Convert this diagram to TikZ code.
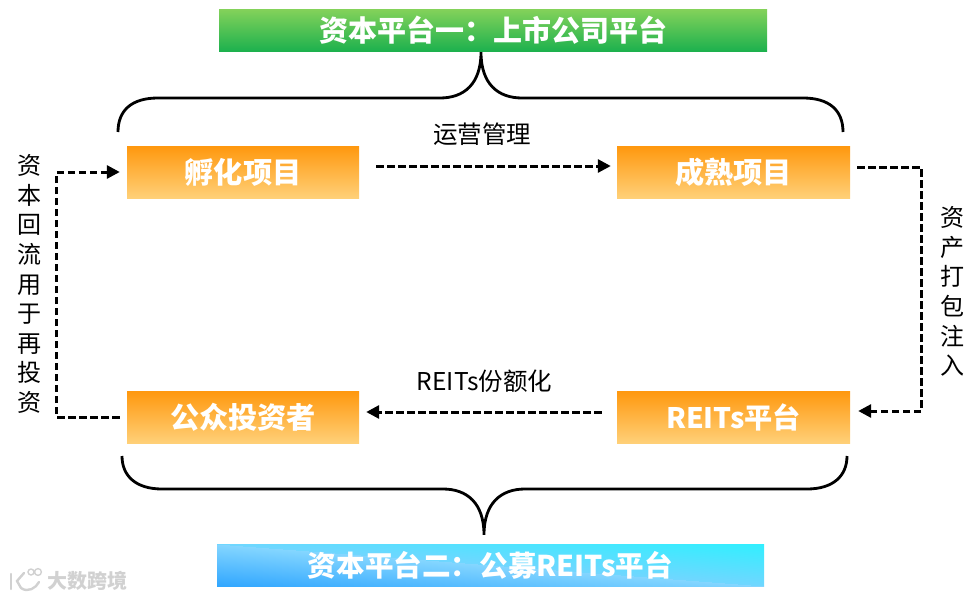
\documentclass[tikz,border=0pt]{standalone}
\usepackage{fontspec}
\setmainfont{Noto Sans CJK SC}
\usetikzlibrary{arrows.meta,calc}
\definecolor{gtop}{HTML}{84D25A}
\definecolor{gbot}{HTML}{1DB14E}
\definecolor{otop}{HTML}{FF980E}
\definecolor{obot}{HTML}{FFD078}
\pgfdeclarefunctionalshading{skyshade}{\pgfpointorigin}{\pgfpoint{100bp}{100bp}}{}{
  add 200 div 0.5 sub 1.5 mul 0.5 add dup 0.5 lt
  { 2 mul dup 0.44 mul 0.08 add exch 0.25 mul 0.59 add 1 }
  { 0.5 sub 2 mul dup -0.33 mul 0.44 add exch 0.13 mul 0.84 add 1 }
  ifelse
}
\tikzset{
  x=1pt,y=-1pt,
  stepbox/.style={inner sep=0pt,minimum width=233pt,minimum height=52pt,top color=otop,bottom color=obot,text=white,font=\bfseries\fontsize{29.2}{29.2}\selectfont},
  titlebar/.style={inner sep=0pt,minimum width=548pt,minimum height=42pt,text=white,font=\bfseries\fontsize{29}{29}\selectfont},
  flow/.style={line width=3pt,dash pattern=on 7.5pt off 3.5pt,-{Triangle[length=13pt,width=13pt]}},
  bracket/.style={line width=2.8pt,draw=black},
  caption/.style={inner sep=0pt,text=black,font=\fontsize{24.5}{24.5}\selectfont},
  upright/.style={inner sep=0pt,text=black,align=center,font=\fontsize{24}{29.6}\selectfont},
  mark text/.style={inner sep=0pt,text=black!18,font=\bfseries\fontsize{20}{20}\selectfont},
  logo/.style={line width=2.4pt,draw=black!18,line cap=round}
}
\begin{document}
\begin{tikzpicture}
\useasboundingbox (0,0) rectangle (980,600);
\node[titlebar,top color=gtop,bottom color=gbot] (top) at (493,30) {资本平台一：上市公司平台};
\node[titlebar,minimum width=547pt,shading=skyshade,shading angle=0,font=\bfseries\fontsize{28.6}{28.6}\selectfont] (bottom) at (490.5,565) {资本平台二：公募REITs平台};
\node[stepbox,minimum width=232pt] (a) at (243,172) {孵化项目};
\node[stepbox] (b) at (733.5,172) {成熟项目};
\node[stepbox,font=\bfseries\fontsize{28.2}{28.2}\selectfont] (c) at (733.5,417) {REITs平台};
\node[stepbox,minimum width=232pt] (d) at (243,417) {公众投资者};
\node[caption] (l1) at (482,134) {运营管理};
\node[caption] (l2) at (484.5,381) {REITs份额化};
\node[upright] (l3) at (29,284) {资\\本\\回\\流\\用\\于\\再\\投\\资};
\node[upright] (l4) at (952,291.5) {资\\产\\打\\包\\注\\入};
% dashed flows
\draw[flow] ([shift={(17,-6)}]a.east) -- ([shift={(-6,-6)}]b.west);
\draw[flow] ([shift={(7,-5)}]b.east) -| ($(c.east)+(71,-6)$) -- ([shift={(8,-6)}]c.east);
\draw[flow] ([shift={(-15,-5)}]c.west) -- ([shift={(7,-5)}]d.east);
\draw[flow] ([xshift=-7pt]d.west) -| ($(a.west)+(-70,0)$) -- ([xshift=-7pt]a.west);
% braces
\coordinate (tt) at ($(top.south)+(-12,1)$);
\coordinate (bt) at ($(bottom.north)+(-6.5,-9)$);
\draw[bracket] (118,132) .. controls (118,110) and (132,98) .. (158,98) -- (440,98) .. controls (464,98) and (481,84) .. (tt) .. controls (481,84) and (498,98) .. (522,98) -- (803,98) .. controls (829,98) and (843,110) .. (843,132);
\draw[bracket] (122,456) .. controls (122,476) and (136,489) .. (162,489) -- (443,489) .. controls (467,489) and (484,503) .. (bt) .. controls (484,503) and (501,489) .. (525,489) -- (807,489) .. controls (833,489) and (847,476) .. (847,456);
% watermark
\node[mark text,anchor=west] (wm) at (47,581) {大数跨境};
\draw[logo] (11,574) -- (11,589);
\draw[logo] (24,573) -- (17,581) -- (21,588) .. controls (28,593) and (36,588) .. (39,582);
\draw[logo,line width=1.4pt] (31,572) circle (3pt) (38,572) circle (3.4pt);
\end{tikzpicture}
\end{document}
